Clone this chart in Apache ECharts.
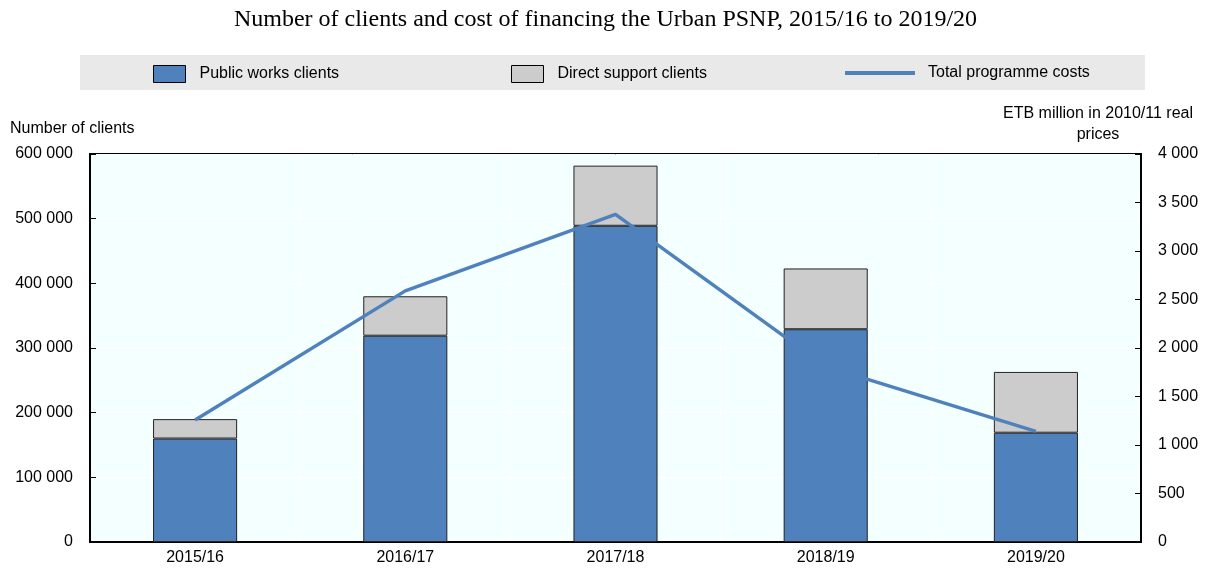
<!DOCTYPE html>
<html>
<head>
<meta charset="utf-8">
<script src="https://cdn.jsdelivr.net/npm/echarts@6/dist/echarts.min.js"></script>
<style>
html, body { margin: 0; padding: 0; background: #fff; }
#chart { width: 1211px; height: 569px; }
</style>
</head>
<body>
<div id="chart"></div>
<script>
// data
var years = ['2015/16', '2016/17', '2017/18', '2018/19', '2019/20'];
var publicWorks = [160000, 319000, 489000, 329000, 169000];
var directSupport = [30000, 61000, 93000, 94000, 94000];
var totalCosts = [1257, 2589, 3378, 1810, 1141];

var leftTicks = { min: 0, max: 600000, interval: 100000 };
var rightTicks = { min: 0, max: 4000, interval: 500 };

function spaced(v)
{
	return String(v).replace(/\B(?=(\d{3})+(?!\d))/g, ' ');
}

var font = 'Liberation Sans, Arial, sans-serif';
var blue = '#4F81BD';
var grey = '#CCCCCC';

var chart = echarts.init(document.getElementById('chart'));

var options =
{
	animation: false,
	title:
	{
		text: 'Number of clients and cost of financing the Urban PSNP, 2015/16 to 2019/20',
		left: 'center',
		top: 3,
		textStyle: { fontFamily: 'Liberation Serif, Times New Roman, serif', fontSize: 24, fontWeight: 'normal', color: '#000' }
	},
	graphic:
	[
		{ type: 'rect', shape: { x: 80, y: 55, width: 1065, height: 35 }, style: { fill: '#E9E9E9' }, z: -10 },
		{ type: 'text', left: 10, top: 121, style: { text: 'Number of clients', font: '16px ' + font, fill: '#000' } },
		{ type: 'text', x: 1098, y: 103, style: { text: 'ETB million in 2010/11 real\nprices', font: '16px ' + font, fill: '#000', align: 'center', lineHeight: 21 } }
	],
	legend:
	[
		{
			data: [{ name: 'Public works clients', icon: 'rect' }],
			left: 153, top: 65, padding: 0, itemWidth: 32, itemHeight: 17,
			itemStyle: { borderColor: '#000', borderWidth: 1 },
			textStyle: { fontFamily: font, fontSize: 16, color: '#000', padding: [0, 0, 0, 9] }
		},
		{
			data: [{ name: 'Direct support clients', icon: 'rect' }],
			left: 511, top: 65, padding: 0, itemWidth: 32, itemHeight: 17,
			itemStyle: { borderColor: '#000', borderWidth: 1 },
			textStyle: { fontFamily: font, fontSize: 16, color: '#000', padding: [0, 0, 0, 9] }
		},
		{
			data: [{ name: 'Total programme costs', icon: 'rect' }],
			left: 845, top: 65, padding: 0, itemWidth: 70, itemHeight: 4,
			itemStyle: { borderWidth: 0 },
			textStyle: { fontFamily: font, fontSize: 16, color: '#000', padding: [0, 0, 0, 8] }
		}
	],
	grid: { left: 90, right: 70, top: 154, bottom: 27, backgroundColor: '#F4FFFF', show: true, borderColor: '#000', borderWidth: 2 },
	xAxis:
	{
		type: 'category',
		data: years,
		axisLine: { lineStyle: { color: '#000', width: 2 } },
		axisTick: { show: false },
		axisLabel: { fontFamily: font, fontSize: 16, color: '#000', margin: 8 },
		splitLine: { show: true, interval: 0, lineStyle: { color: '#FFFFFF', width: 1 } }
	},
	yAxis:
	[
		{
			type: 'value',
			min: leftTicks.min, max: leftTicks.max, interval: leftTicks.interval,
			axisLine: { show: true, lineStyle: { color: '#000', width: 2 } },
			axisTick: { show: true, inside: true, length: 6, lineStyle: { color: '#000' } },
			axisLabel: { fontFamily: font, fontSize: 16, color: '#000', margin: 17, formatter: spaced },
			splitLine: { lineStyle: { color: '#FFFFFF', width: 1 } }
		},
		{
			type: 'value',
			min: rightTicks.min, max: rightTicks.max, interval: rightTicks.interval,
			axisLine: { show: true, lineStyle: { color: '#000', width: 2 } },
			axisTick: { show: true, inside: true, length: 6, lineStyle: { color: '#000' } },
			axisLabel: { fontFamily: font, fontSize: 16, color: '#000', margin: 17, formatter: spaced },
			splitLine: { show: false }
		}
	],
	series:
	[
		{
			name: 'Public works clients',
			type: 'bar',
			stack: 'clients',
			data: publicWorks,
			barWidth: '40%',
			itemStyle: { color: blue, borderColor: '#222', borderWidth: 1 }
		},
		{
			name: 'Direct support clients',
			type: 'bar',
			stack: 'clients',
			data: directSupport,
			barWidth: '40%',
			itemStyle: { color: grey, borderColor: '#222', borderWidth: 1 }
		},
		{
			name: 'Total programme costs',
			type: 'line',
			yAxisIndex: 1,
			data: totalCosts,
			symbol: 'none',
			z: 5,
			lineStyle: { color: blue, width: 3.5 },
			itemStyle: { color: blue }
		}
	]
};

chart.setOption(options);
</script>
</body>
</html>
